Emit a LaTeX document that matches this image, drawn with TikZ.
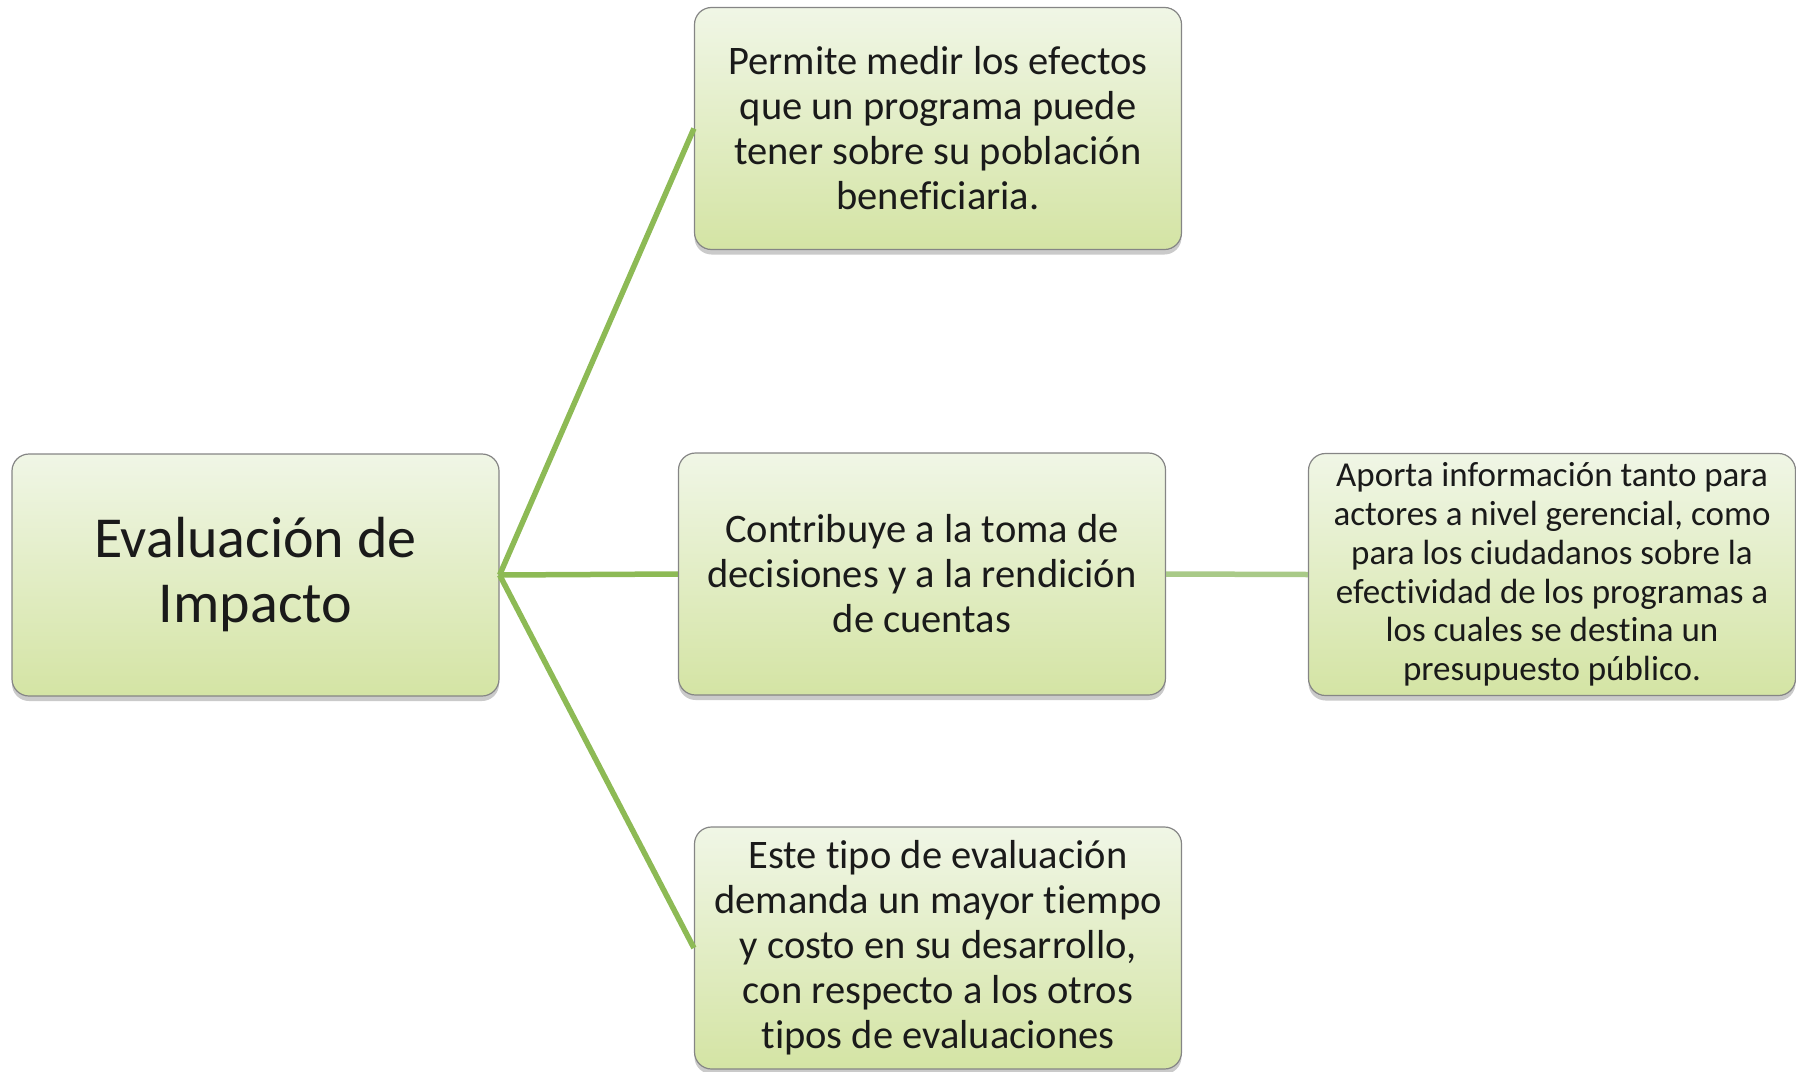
\documentclass[tikz,border=0pt]{standalone}
\usepackage{fontspec}
\setmainfont[Ligatures=NoCommon]{Carlito}
\usetikzlibrary{shadows}
\definecolor{boxtop}{HTML}{F0F6E6}
\definecolor{boxbot}{HTML}{D4E4A4}
\definecolor{boxline}{HTML}{858585}
\definecolor{linkgreen}{HTML}{8DBA55}
\definecolor{linklight}{HTML}{A9CA88}
\definecolor{txt}{HTML}{1A1A1A}
\begin{document}
\begin{tikzpicture}[x=1pt,y=-1pt,
  card/.style={rounded corners=17pt, draw=boxline, line width=1.2pt,
    top color=boxtop, bottom color=boxbot,
    minimum width=487pt, minimum height=242pt, inner sep=0pt,
    align=center, text=txt,
    drop shadow={shadow xshift=0pt, shadow yshift=-5pt, opacity=0.35, fill=black!60}},
  midtext/.style={font=\fontsize{40.5}{45}\selectfont},
  smalltext/.style={font=\fontsize{35}{38.7}\selectfont},
  bigtext/.style={font=\fontsize{58}{65}\selectfont},
  link/.style={draw=linkgreen, line width=5.5pt},
  lightlink/.style={draw=linklight, line width=5.5pt}]
\useasboundingbox (0,0) rectangle (1796,1071);
\node[card, bigtext] (main) at (255.5,575) {Evaluación de\\Impacto};
\node[card, midtext] (top) at (938,128.5) {Permite medir los efectos\\que un programa puede\\tener sobre su población\\beneficiaria.};
\node[card, midtext] (mid) at (922,574) {Contribuye a la toma de\\decisiones y a la rendición\\de cuentas};
\node[card, smalltext] (right) at (1552,574.5) {Aporta información tanto para\\actores a nivel gerencial, como\\para los ciudadanos sobre la\\efectividad de los programas a\\los cuales se destina un\\presupuesto público.};
\node[card, midtext] (bot) at (938,948) {Este tipo de evaluación\\demanda un mayor tiempo\\y costo en su desarrollo,\\con respecto a los otros\\tipos de evaluaciones};
\draw[link] (main.east) -- (top.west);
\draw[link] (main.east) -- (mid.west);
\draw[link] (main.east) -- (bot.west);
\draw[lightlink] (mid.east) -- (right.west);
\end{tikzpicture}
\end{document}
